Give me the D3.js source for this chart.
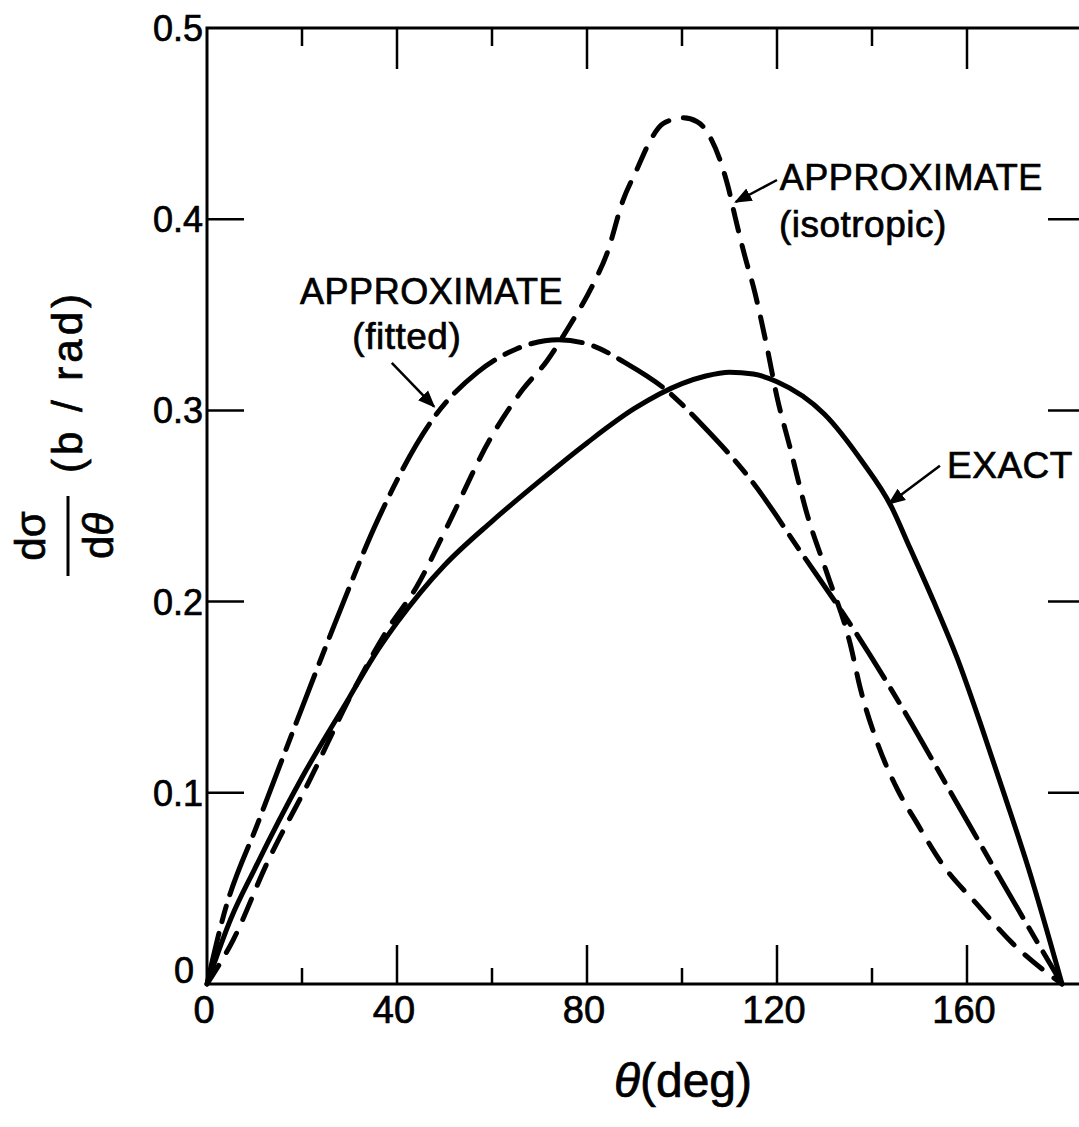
<!DOCTYPE html>
<html>
<head>
<meta charset="utf-8">
<script src="https://cdn.jsdelivr.net/npm/d3@7"></script>
<style>
  body { margin: 0; background: #fff; }
  svg { display: block; }
  text { font-family: "Liberation Sans", Arial, sans-serif; fill: #000; stroke: #000; stroke-width: 0.7px; }
</style>
</head>
<body>
<svg id="chart"></svg>
<script>
// angle (deg) and dsigma/dtheta (b/rad)
var exactTheta = [0, 5, 10, 20, 30, 35, 40, 45, 50, 60, 70, 80, 90, 100, 105, 110, 115, 120, 130, 138, 144, 148, 153, 158, 163, 168, 173, 180]
var exactValue = [0, 0.034, 0.06, 0.108, 0.15, 0.171, 0.189, 0.205, 0.219, 0.242, 0.263, 0.283, 0.301, 0.314, 0.318, 0.32, 0.319, 0.315, 0.298, 0.273, 0.25, 0.228, 0.2, 0.17, 0.135, 0.098, 0.06, 0]

var fittedTheta = [0, 3.4, 11, 19, 27, 36, 48, 57, 65, 74, 81, 88, 97, 104, 115, 125, 136, 146, 158, 171, 180]
var fittedValue = [0, 0.035, 0.086, 0.138, 0.189, 0.243, 0.297, 0.32, 0.332, 0.337, 0.334, 0.325, 0.31, 0.293, 0.262, 0.226, 0.186, 0.146, 0.094, 0.038, 0]

var isoTheta = [0, 5.5, 12.6, 21.7, 30.1, 37.9, 44.2, 50.5, 59.6, 66.5, 71.6, 76, 81.3, 84.2, 87.6, 90.5, 93.3, 96, 100.2, 103.2, 105.9, 108, 109.7, 111.2, 113.3, 115, 117.9, 120, 122.7, 126.3, 130.5, 135.4, 137.5, 141, 145.3, 149.5, 155, 162, 169.7, 180]
var isoValue = [0, 0.023, 0.063, 0.107, 0.15, 0.185, 0.208, 0.239, 0.285, 0.311, 0.326, 0.343, 0.366, 0.382, 0.41, 0.426, 0.441, 0.45, 0.453, 0.451, 0.443, 0.431, 0.417, 0.401, 0.38, 0.365, 0.333, 0.307, 0.281, 0.246, 0.215, 0.178, 0.155, 0.127, 0.102, 0.084, 0.062, 0.042, 0.021, 0]

var xTickValues = [20, 40, 60, 80, 100, 120, 140, 160]
var xTickLabels = [0, 40, 80, 120, 160]
var yTickValues = [0.1, 0.2, 0.3, 0.4]
var yTickLabels = [0, 0.1, 0.2, 0.3, 0.4, 0.5]

var width = 1079
var height = 1127
var frame = {left: 207, top: 28, right: 1086, bottom: 984}

var svg = d3.select("#chart")
    .attr("width", width)
    .attr("height", height)

var x = d3.scaleLinear().domain([0, 180]).range([frame.left, 1062])
var y = d3.scaleLinear().domain([0, 0.5]).range([frame.bottom, frame.top])

var defs = svg.append("defs")
defs.append("marker")
    .attr("id", "head")
    .attr("viewBox", "0 0 10 10")
    .attr("refX", 9)
    .attr("refY", 5)
    .attr("markerWidth", 7)
    .attr("markerHeight", 7)
    .attr("markerUnits", "strokeWidth")
    .attr("orient", "auto")
  .append("path")
    .attr("d", "M0,1 L10,5 L0,9 Z")
    .attr("fill", "#000")

// frame
svg.append("rect")
    .attr("x", frame.left)
    .attr("y", frame.top)
    .attr("width", frame.right - frame.left)
    .attr("height", frame.bottom - frame.top)
    .attr("fill", "none")
    .attr("stroke", "#000")
    .attr("stroke-width", 3)

// ticks, all pointing into the frame
var tickLen = d => (d % 40 === 0 ? 39 : 16)

svg.append("g").selectAll("line")
  .data(xTickValues)
  .enter().append("line")
    .attr("x1", d => x(d)).attr("x2", d => x(d))
    .attr("y1", frame.bottom).attr("y2", d => frame.bottom - tickLen(d))
    .attr("stroke", "#000").attr("stroke-width", 2.5)

svg.append("g").selectAll("line")
  .data(xTickValues)
  .enter().append("line")
    .attr("x1", d => x(d)).attr("x2", d => x(d))
    .attr("y1", frame.top).attr("y2", d => frame.top + (d % 40 === 0 ? 41 : 18))
    .attr("stroke", "#000").attr("stroke-width", 2.5)

svg.append("g").selectAll("line")
  .data(yTickValues)
  .enter().append("line")
    .attr("x1", frame.left).attr("x2", frame.left + 37)
    .attr("y1", d => y(d)).attr("y2", d => y(d))
    .attr("stroke", "#000").attr("stroke-width", 2.5)

svg.append("g").selectAll("line")
  .data(yTickValues)
  .enter().append("line")
    .attr("x1", frame.right).attr("x2", frame.right - 38)
    .attr("y1", d => y(d)).attr("y2", d => y(d))
    .attr("stroke", "#000").attr("stroke-width", 2.5)

// tick labels
svg.append("g").selectAll("text")
  .data(xTickLabels)
  .enter().append("text")
    .attr("x", d => x(d) - 3)
    .attr("y", 1023)
    .attr("text-anchor", "middle")
    .style("font-size", "38px")
    .text(d => d)

svg.append("g").selectAll("text")
  .data(yTickLabels)
  .enter().append("text")
    .attr("x", d => (d === 0 ? 194 : 203))
    .attr("y", d => (d === 0 ? y(d) - 1 : y(d) + 13))
    .attr("text-anchor", "end")
    .style("font-size", "36px")
    .text(d => (d === 0 ? "0" : d3.format(".1f")(d)))

// curves
var line = d3.line()
    .x(d => x(d[0]))
    .y(d => y(d[1]))
    .curve(d3.curveMonotoneX)

var series = [
  {t: exactTheta, v: exactValue, dash: null},
  {t: fittedTheta, v: fittedValue, dash: "52,12,16,12"},
  {t: isoTheta, v: isoValue, dash: "22,15"}
]

svg.append("g").selectAll("path")
  .data(series)
  .enter().append("path")
    .attr("d", s => line(d3.zip(s.t, s.v)))
    .attr("fill", "none")
    .attr("stroke", "#000")
    .attr("stroke-width", 5)
    .attr("stroke-linecap", s => (s.dash ? "round" : "butt"))
    .attr("stroke-linejoin", "round")
    .attr("stroke-dasharray", s => s.dash)

// annotations (data coordinates)
var arrows = [
  {from: [154.3, 0.271], to: [143.6, 0.2512]},
  {from: [120, 0.4205], to: [111.3, 0.409]},
  {from: [38.9, 0.3248], to: [47.8, 0.302]}
]

svg.append("g").selectAll("line")
  .data(arrows)
  .enter().append("line")
    .attr("x1", d => x(d.from[0])).attr("y1", d => y(d.from[1]))
    .attr("x2", d => x(d.to[0])).attr("y2", d => y(d.to[1]))
    .attr("stroke", "#000")
    .attr("stroke-width", 2.5)
    .attr("marker-end", "url(#head)")

var labels = [
  {text: "EXACT", at: [155.8, 0.2647], size: 37},
  {text: "APPROXIMATE", at: [120.6, 0.4152], size: 36},
  {text: "(isotropic)", at: [120.4, 0.3905], size: 37},
  {text: "APPROXIMATE", at: [19.6, 0.3555], size: 36},
  {text: "(fitted)", at: [30.6, 0.332], size: 37}
]

svg.append("g").selectAll("text")
  .data(labels)
  .enter().append("text")
    .attr("x", d => x(d.at[0]))
    .attr("y", d => y(d.at[1]))
    .style("font-size", d => d.size + "px")
    .style("letter-spacing", "0.5px")
    .text(d => d.text)

// x axis title
svg.append("text")
    .attr("x", 683)
    .attr("y", 1097)
    .attr("text-anchor", "middle")
    .style("font-size", "48px")
    .html('<tspan font-style="italic">θ</tspan>(deg)')

// y axis title, rotated
var yt = svg.append("g")
    .attr("transform", "translate(68,536) rotate(-90)")

yt.append("line")
    .attr("x1", -40).attr("x2", 40)
    .attr("y1", 0).attr("y2", 0)
    .attr("stroke", "#000").attr("stroke-width", 3)

yt.append("text")
    .attr("x", 0).attr("y", -23)
    .attr("text-anchor", "middle")
    .style("font-size", "42px")
    .text("dσ")

yt.append("text")
    .attr("x", 0).attr("y", 45)
    .attr("text-anchor", "middle")
    .style("font-size", "42px")
    .html('d<tspan font-style="italic">θ</tspan>')

yt.append("text")
    .attr("x", 63).attr("y", 14)
    .style("font-size", "42px")
    .style("letter-spacing", "4px")
    .text("(b / rad)")
</script>
</body>
</html>
